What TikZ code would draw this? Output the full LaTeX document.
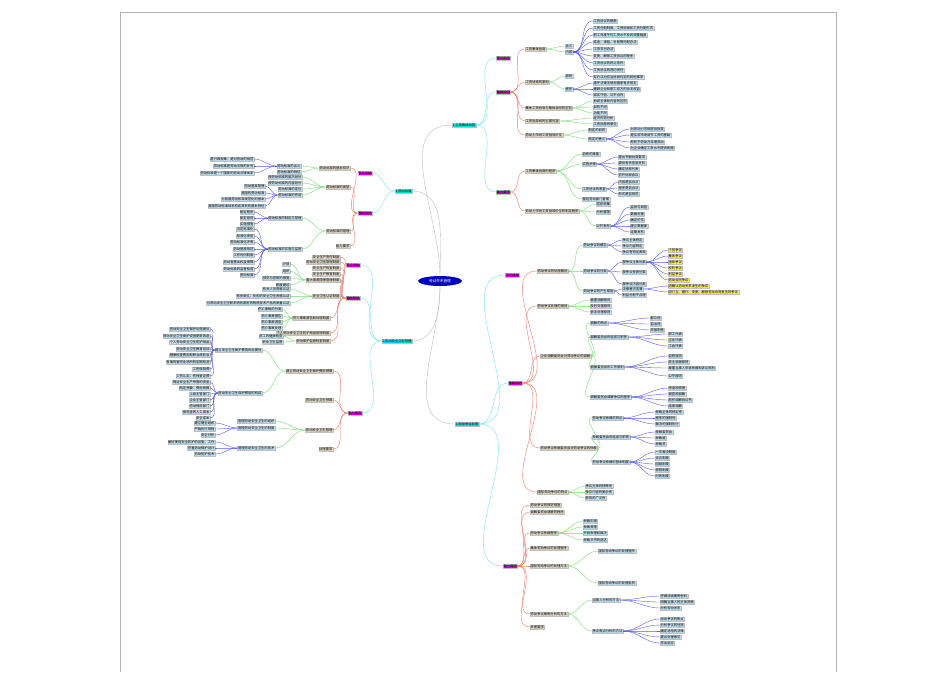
\documentclass[tikz,border=0pt]{standalone}
\usepackage{fontspec}
\usetikzlibrary{shapes.geometric}
\newfontfamily\cjk{Noto Sans CJK SC}
\definecolor{cy}{RGB}{0,225,225}
\definecolor{mg}{RGB}{215,0,215}
\definecolor{tn}{RGB}{222,216,196}
\definecolor{lb}{RGB}{190,225,242}
\definecolor{yl}{RGB}{250,245,40}
\definecolor{rl}{RGB}{240,120,110}
\definecolor{gl}{RGB}{120,220,120}
\definecolor{bl}{RGB}{90,90,235}
\definecolor{cl}{RGB}{120,230,235}
\tikzset{
 base/.style={inner sep=0.6pt,font=\cjk\fontsize{3.3}{3.8}\selectfont,draw=black!25,line width=0.1pt},
 c1/.style={base,fill=cy},
 c2/.style={base,fill=mg},
 c3/.style={base,fill=tn},
 c4/.style={base,fill=lb},
 c5/.style={base,fill=yl},
 ln/.style={line width=0.4pt},
}
\newcommand\Rk[7]{\node[#6,anchor=west] (#2) at (#3,#4) {#5}; \draw[ln,#7] (#1.east) to[out=0,in=180] (#2.west);}
\newcommand\Lk[7]{\node[#6,anchor=east] (#2) at (#3,#4) {#5}; \draw[ln,#7] (#1.west) to[out=180,in=0] (#2.east);}
\begin{document}
\begin{tikzpicture}[x=1pt,y=-1pt]
\useasboundingbox (0,0) rectangle (950,672);
\fill[white] (0,0) rectangle (950,672);
\draw[black!30,line width=0.3pt] (120,672) -- (120,12) -- (836,12) -- (836,672);
\node[ellipse,fill=blue!75!black,text=white,inner sep=1pt,font=\cjk\fontsize{3.6}{4}\selectfont,minimum width=44,minimum height=10] (root) at (440,281) {劳动关系管理};
\node[c1,anchor=west] (A) at (452,125) {1.工资集体协商};
\node[c1,anchor=west] (B) at (455,424) {2.劳动争议处理};
\node[c1,anchor=east] (C) at (412,191) {1.劳动标准}; 
\node[c1,anchor=east] (D) at (412,341) {2.劳动安全卫生管理};
\draw[ln,black!25] (root) to[out=90,in=180] (A.west);
\draw[ln,black!25] (root) to[out=-90,in=180] (B.west);
\draw[ln,black!25] (root) to[out=90,in=0] (C.east);
\draw[ln,black!25] (root) to[out=-90,in=0] (D.east);
% ===== A
\Rk{A}{A1}{496}{58}{学习目标}{c2}{cl}
\Rk{A}{A2}{496}{92}{基础知识}{c2}{cl}
\Rk{A}{A3}{496}{192}{能力要求}{c2}{cl}
\Rk{A2}{A21}{525}{49}{工资集体协商}{c3}{rl}
\Rk{A21}{A211}{565}{46}{含义}{c4}{gl}
\Rk{A21}{A212}{565}{52}{内容}{c4}{gl}
\foreach \y/\t [count=\i] in {21/工资协议的期限,28/工资分配制度、工资标准和工资分配形式,35/职工年度平均工资水平及其调整幅度,42/奖金、津贴、补贴等分配办法,49/工资支付办法,56/变更、解除工资协议的程序,63/工资协议的终止条件,70/工资协议的违约责任,77/双方认为应当协商约定的其他事项}
  {\Rk{A212}{A212\i}{593}{\y}{\t}{c4}{bl}}
\Rk{A2}{A22}{525}{82}{工资协商的原则}{c3}{rl}
\Rk{A22}{A221}{565}{76}{原则}{c4}{gl}
\Rk{A22}{A222}{565}{89}{程序}{c4}{gl}
\foreach \y/\t [count=\i] in {83/遵守法律法规和国家有关规定,89/兼顾企业和职工双方的合法权益,95/诚实守信、公平合作}
  {\Rk{A222}{A222\i}{593}{\y}{\t}{c4}{bl}}
\Rk{A2}{A23}{525}{108}{集体工资协商与集体合同的区别}{c3}{rl}
\foreach \y/\t [count=\i] in {101/协商主体和内容的区别,107/目的不同,113/功能不同}
  {\Rk{A23}{A23\i}{593}{\y}{\t}{c4}{gl}}
\Rk{A2}{A24}{525}{121}{工资指导线的主要内容}{c3}{rl}
\foreach \y/\t [count=\i] in {118/经济形势分析,124/工资指导线意见}
  {\Rk{A24}{A24\i}{593}{\y}{\t}{c4}{gl}}
\Rk{A2}{A25}{525}{135}{劳动力市场工资指导价位}{c3}{rl}
\Rk{A25}{A251}{588}{130}{制定的目的}{c4}{gl}
\Rk{A25}{A252}{588}{139}{制定的意义}{c4}{gl}
\foreach \y/\t [count=\i] in {129/为劳动力市场提供指导,135/是实现市场调节工资的基础,142/有利于劳动力合理流动,148/为企业确定工资水平提供依据}
  {\Rk{A252}{A252\i}{630}{\y}{\t}{c4}{bl}}
\Rk{A3}{A31}{525}{171}{工资集体协商的程序}{c3}{rl}
\Rk{A31}{A311}{582}{154}{协商的准备}{c4}{gl}
\Rk{A31}{A312}{582}{164}{实施步骤}{c4}{gl}
\Rk{A31}{A313}{582}{189}{工资协议的审查}{c4}{gl}
\Rk{A31}{A314}{582}{199}{报送劳动部门备案}{c4}{gl}
\foreach \y/\t [count=\i] in {157/提出书面协商要求,163/提供有关信息资料,169/确定协商代表,175/召开协商会议}
  {\Rk{A312}{A312\i}{618}{\y}{\t}{c4}{bl}}
\foreach \y/\t [count=\i] in {182/内容是否合法,188/程序是否合法,194/形式是否规范}
  {\Rk{A313}{A313\i}{618}{\y}{\t}{c4}{bl}}
\Rk{A3}{A32}{525}{211}{劳动力市场工资指导价位的制定程序}{c3}{rl}
\Rk{A32}{A321}{596}{204}{信息采集}{c4}{gl}
\Rk{A32}{A322}{596}{212}{分析整理}{c4}{gl}
\Rk{A32}{A323}{596}{226}{公开发布}{c4}{gl}
\foreach \y/\t [count=\i] in {207/监测与调查,214/数据处理,220/确定价位,226/建立数据库,232/定期发布}
  {\Rk{A323}{A323\i}{630}{\y}{\t}{c4}{bl}}
% ===== B
\Rk{B}{B1}{505}{275}{学习目标}{c2}{cl}
\Rk{B}{B2}{508}{383}{基础知识}{c2}{cl}
\Rk{B}{B3}{503}{566}{能力要求}{c2}{cl}
\Rk{B2}{B21}{537}{271}{劳动争议的处理概述}{c3}{rl}
\Rk{B21}{B211}{583}{245}{劳动争议的概念}{c4}{gl}
\Rk{B21}{B212}{583}{271}{劳动争议的分类}{c4}{gl}
\Rk{B21}{B213}{583}{291}{劳动争议的产生原因}{c4}{gl}
\foreach \y/\t [count=\i] in {240/争议主体特定,246/争议内容特定,252/争议有特定表现}
  {\Rk{B211}{B211\i}{622}{\y}{\t}{c4}{bl}}
\foreach \y/\t [count=\i] in {262/按争议主体分类,272/按争议性质分类,284/按争议内容分类}
  {\Rk{B212}{B212\i}{622}{\y}{\t}{c4}{bl}}
\foreach \y/\t [count=\i] in {289/法律意识淡薄,295/利益分配不合理}
  {\Rk{B213}{B213\i}{622}{\y}{\t}{c4}{bl}}
\foreach \y/\t [count=\i] in {250/个别争议,256/集体争议,262/团体争议,268/权利争议,274/利益争议,280/劳动合同争议}
  {\Rk{B2121}{B2121\i}{668}{\y}{\t}{c5}{bl}}
\foreach \y/\t [count=\i] in {286/因确认劳动关系发生的争议,292/因订立、履行、变更、解除劳动合同发生的争议}
  {\Rk{B2131}{B2131\i}{668}{\y}{\t}{c5}{bl}}
\Rk{B2}{B22}{537}{306}{劳动争议处理的原则}{c3}{rl}
\foreach \y/\t [count=\i] in {300/着重调解原则,306/及时处理原则,312/依法处理原则}
  {\Rk{B22}{B22\i}{590}{\y}{\t}{c4}{gl}}
\Rk{B2}{B23}{540}{356}{企业调解委员会对劳动争议的调解}{c3}{rl}
\Rk{B23}{B231}{590}{323}{调解的特点}{c4}{gl}
\Rk{B23}{B232}{590}{337}{调解委员会的组成与职责}{c4}{gl}
\Rk{B23}{B233}{590}{367}{调解委员会的工作原则}{c4}{gl}
\Rk{B23}{B234}{590}{397}{调解委员会调解争议的程序}{c4}{gl}
\foreach \y/\t [count=\i] in {318/群众性,324/自治性,330/非强制性}
  {\Rk{B231}{B231\i}{650}{\y}{\t}{c4}{bl}}
\foreach \y/\t [count=\i] in {334/职工代表,340/企业代表,346/工会代表}
  {\Rk{B232}{B232\i}{668}{\y}{\t}{c4}{bl}}
\foreach \y/\t [count=\i] in {356/自愿原则,362/民主说服原则,368/尊重当事人申请仲裁和诉讼权利,376/公平原则}
  {\Rk{B233}{B233\i}{668}{\y}{\t}{c4}{bl}}
\foreach \y/\t [count=\i] in {388/申请和受理,394/调查和调解,400/制作调解协议书,406/结束调解}
  {\Rk{B234}{B234\i}{668}{\y}{\t}{c4}{bl}}
\Rk{B2}{B24}{540}{448}{劳动争议仲裁委员会对劳动争议的仲裁}{c3}{rl}
\Rk{B24}{B241}{592}{418}{劳动争议仲裁的特点}{c4}{gl}
\Rk{B24}{B242}{592}{437}{仲裁委员会的组成与职责}{c4}{gl}
\Rk{B24}{B243}{592}{462}{劳动争议仲裁的基本制度}{c4}{gl}
\foreach \y/\t [count=\i] in {412/仲裁主体的特定性,418/程序的强制性,424/裁决的强制执行}
  {\Rk{B241}{B241\i}{655}{\y}{\t}{c4}{bl}}
\foreach \y/\t [count=\i] in {432/仲裁委员会,438/仲裁庭,444/仲裁员}
  {\Rk{B242}{B242\i}{655}{\y}{\t}{c4}{bl}}
\foreach \y/\t [count=\i] in {452/一次裁决制度,458/合议制度,464/回避制度,470/管辖制度,476/时效制度}
  {\Rk{B243}{B243\i}{655}{\y}{\t}{c4}{bl}}
\Rk{B2}{B25}{537}{492}{国际劳动争议的特点}{c3}{rl}
\foreach \y/\t [count=\i] in {486/争议主体的特殊性,492/争议内容的复杂性,498/影响的广泛性}
  {\Rk{B25}{B25\i}{585}{\y}{\t}{c4}{gl}}
\Rk{B3}{B31}{530}{505}{劳动争议的预防措施}{c3}{rl}
\Rk{B3}{B32}{530}{512}{调解委员会调解的程序}{c3}{rl}
\Rk{B3}{B33}{530}{533}{劳动争议仲裁程序}{c3}{rl}
\foreach \y/\t [count=\i] in {521/仲裁申请,527/仲裁受理,533/开庭审理和裁决,540/仲裁文书的送达}
  {\Rk{B33}{B33\i}{583}{\y}{\t}{c4}{gl}}
\Rk{B3}{B34}{530}{548}{集体劳动争议的处理程序}{c3}{rl}
\Rk{B3}{B35}{530}{566}{国际劳动争议的处理方法}{c3}{rl}
\Rk{B35}{B351}{598}{551}{国际劳动争议的处理程序}{c4}{gl}
\Rk{B35}{B352}{598}{583}{国际劳动争议的处理机构}{c4}{gl}
\Rk{B3}{B36}{530}{614}{劳动争议案例分析的方法}{c3}{rl}
\Rk{B36}{B361}{592}{600}{当事人分析的方法}{c4}{gl}
\Rk{B36}{B362}{592}{631}{争议焦点分析的方法}{c4}{gl}
\foreach \y/\t [count=\i] in {596/仔细阅读案例材料,602/明确当事人的主体资格,608/分析劳动关系}
  {\Rk{B361}{B361\i}{660}{\y}{\t}{c4}{bl}}
\foreach \y/\t [count=\i] in {619/找出争议的焦点,625/分析争议的性质,631/确定适用的法律,637/提出处理意见,643/作出结论}
  {\Rk{B362}{B362\i}{660}{\y}{\t}{c4}{bl}}
\Rk{B3}{B37}{530}{627}{处理要求}{c3}{rl}
% ===== C (left)
\Lk{C}{C1}{372}{173}{学习目标}{c2}{cl}
\Lk{C}{C2}{372}{213}{基础知识}{c2}{cl}
\Lk{C2}{C21}{350}{168}{劳动标准的基本知识}{c3}{rl}
\Lk{C21}{C211}{301}{166}{劳动标准的含义}{c4}{gl}
\Lk{C21}{C212}{301}{172}{劳动标准的特征}{c4}{gl}
\foreach \y/\t [count=\i] in {159/是行政规章，是对劳动的规范,166/劳动标准是劳动法规的补充,173/劳动标准是一个国家的劳动法律体系}
  {\Lk{C211}{C211\i}{254}{\y}{\t}{c4}{bl}}
\Lk{C2}{C22}{350}{187}{劳动标准的类型}{c3}{rl}
\foreach \y/\t [count=\i] in {177/按劳动标准的层次划分,183/按劳动标准的内容划分,189/劳动标准的定位,195/劳动标准的作用}
  {\Lk{C22}{C22\i}{302}{\y}{\t}{c4}{gl}}
\foreach \y/\t [count=\i] in {186/劳动基准管理,193/我国的劳动标准,199/为我国劳动标准规范化的基本,206/我国劳动标准体系构成具有的基本特征}
  {\Lk{C224}{C224\i}{265}{\y}{\t}{c4}{bl}}
\Lk{C2}{C23}{350}{231}{劳动标准的管理}{c3}{rl}
\Lk{C23}{C231}{302}{218}{劳动标准的制定与管理}{c4}{gl}
\Lk{C23}{C232}{302}{249}{劳动标准的实施与监督}{c4}{gl}
\foreach \y/\t [count=\i] in {212/制定程序,218/制定原则,224/实施措施}
  {\Lk{C231}{C231\i}{254}{\y}{\t}{c4}{bl}}
\foreach \y/\t [count=\i] in {229/法定标准化,236/标准化审查,242/劳动标准化评审,249/劳动基准规范,255/工作时间制度,262/劳动者基本权益保障,269/劳动标准的监督检查,275/劳动标准}
  {\Lk{C232}{C232\i}{254}{\y}{\t}{c4}{bl}}
\Lk{C2}{C24}{350}{246}{能力要求}{c3}{rl}
% ===== D (left)
\Lk{D}{D1}{360}{265}{学习目标}{c2}{cl}
\Lk{D}{D2}{360}{298}{基础知识}{c2}{cl}
\Lk{D}{D3}{362}{413}{能力要求}{c2}{cl}
\Lk{D2}{D21}{340}{257}{安全生产责任制度}{c3}{rl}
\Lk{D2}{D22}{340}{262}{劳动安全卫生管理制度}{c3}{rl}
\Lk{D2}{D23}{340}{268}{安全生产检查制度}{c3}{rl}
\Lk{D2}{D24}{340}{274}{安全生产教育制度}{c3}{rl}
\Lk{D2}{D25}{340}{280}{重大事故隐患管理制度}{c3}{rl}
\foreach \y/\t [count=\i] in {264/计划,271/组织,278/预防与控制的措施,285/制度建设}
  {\Lk{D25}{D25\i}{290}{\y}{\t}{c4}{gl}}
\Lk{D2}{D26}{340}{296}{安全卫生认证制度}{c3}{rl}
\foreach \y/\t [count=\i] in {289/有关人员资格认证,296/有关单位、机构的安全卫生资格认证,303/与劳动安全卫生联系特别紧密的物质技术产品的质量认证}
  {\Lk{D26}{D26\i}{290}{\y}{\t}{c4}{gl}}
\Lk{D2}{D27}{330}{318}{伤亡事故报告和处理制度}{c3}{rl}
\foreach \y/\t [count=\i] in {309/伤亡事故的分类,316/伤亡事故报告,322/伤亡事故调查,328/伤亡事故处理}
  {\Lk{D27}{D27\i}{282}{\y}{\t}{c4}{gl}}
\Lk{D2}{D28}{330}{333}{个人劳动安全卫生防护用品管理制度}{c3}{rl}
\Lk{D2}{D29}{330}{341}{劳动保护监督检查制度}{c3}{rl}
\foreach \y/\t [count=\i] in {336/员工的健康检查,342/职业卫生监督}
  {\Lk{D29}{D29\i}{283}{\y}{\t}{c4}{gl}}
\Lk{D3}{D31}{333}{371}{建立劳动安全卫生保护费用预算}{c3}{rl}
\Lk{D31}{D311}{262}{350}{建立安全卫生保护费用的必要性}{c4}{gl}
\Lk{D31}{D312}{262}{393}{劳动安全卫生保护费用的构成}{c4}{gl}
\foreach \y/\t [count=\i] in {329/劳动安全卫生保护设施建设,336/劳动安全卫生保护设施更新改造,342/个人劳动安全卫生防护用品,349/劳动安全卫生教育培训,355/健康检查费用和职业病防治,362/有毒有害作业场所的定期检测,369/工伤保险费,376/工伤认定、伤残鉴定费}
  {\Lk{D311}{D311\i}{210}{\y}{\t}{c4}{bl}}
\foreach \y/\t [count=\i] in {382/保证安全生产所需的资金,388/制定预算、费用核算,394/上级主管部门,400/企业主管部门,406/劳动保险部门,412/保险金的人工成本,418/安全成本}
  {\Lk{D312}{D312\i}{210}{\y}{\t}{c4}{bl}}
\Lk{D3}{D32}{333}{400}{劳动安全卫生预算}{c3}{rl}
\Lk{D3}{D33}{333}{430}{劳动安全卫生管理}{c3}{rl}
\Lk{D33}{D331}{275}{421}{管理劳动安全卫生的组织}{c4}{gl}
\Lk{D33}{D332}{275}{428}{管理劳动安全卫生的制度}{c4}{gl}
\Lk{D33}{D333}{275}{448}{管理劳动安全卫生的技术}{c4}{gl}
\foreach \y/\t [count=\i] in {423/建立健全组织,429/严格执行规程,435/安全分析}
  {\Lk{D332}{D332\i}{215}{\y}{\t}{c4}{bl}}
\foreach \y/\t [count=\i] in {442/做好使用安全防护的设施，工作,448/完善劳动保护设计,454/劳动防护技术}
  {\Lk{D333}{D333\i}{215}{\y}{\t}{c4}{bl}}
\Lk{D3}{D34}{333}{449}{处理要求}{c3}{rl}
\end{tikzpicture}
\end{document}
